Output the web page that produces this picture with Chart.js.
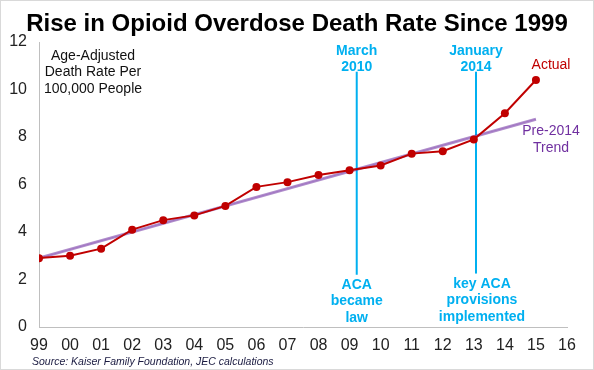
<!DOCTYPE html>
<html>
<head>
<meta charset="utf-8">
<script src="https://cdn.jsdelivr.net/npm/chart.js@4"></script>
<style>
  html, body { margin: 0; padding: 0; background: #fff; }
  #wrap { position: relative; width: 592px; height: 368px; border: 1px solid #d9d9d9; }
  canvas { display: block; }
</style>
</head>
<body>
<div id="wrap"><canvas id="canvasChart" width="592" height="368"></canvas></div>
<script>
"use strict";
// tick labels on the x axis (two-digit years)
const yearLabels = ['99', '00', '01', '02', '03', '04', '05', '06', '07', '08', '09', '10', '11', '12', '13', '14', '15', '16'];
// age-adjusted opioid overdose death rate per 100,000, 1999-2015
const actualValues = [2.9, 3.0, 3.3, 4.1, 4.5, 4.7, 5.1, 5.9, 6.1, 6.4, 6.6, 6.8, 7.3, 7.4, 7.9, 9.0, 10.4];
// pre-2014 trend, start and end
const trendX = [0, 16];
const trendValues = [2.9, 8.75];
// policy markers (x in year-index units)
const eventX = [10.23, 14.07];
const eventTop = [10.75, 10.75];
const eventBottom = [2.2, 2.25];
const eventTopText = [['March', '2010'], ['January', '2014']];
const eventBottomText = [['ACA', 'became', 'law'], ['key ACA', 'provisions', 'implemented']];
const yTicks = [0, 2, 4, 6, 8, 10, 12];

const FONT = '"Liberation Sans", Arial, sans-serif';
const RED = '#C00000';
const PURPLE = '#7030A0';
const CYAN = '#00B0F0';

const eventDatasets = eventX.map(function (x, i) {
    return {
        label: 'event' + i,
        data: [{ x: x, y: eventBottom[i] }, { x: x, y: eventTop[i] }],
        borderColor: CYAN,
        borderWidth: 2,
        pointRadius: 0,
        order: 3
    };
});

const textPlugin = {
    id: 'textPlugin',
    afterDraw: function (chart) {
        const ctx = chart.ctx;
        const xs = chart.scales.x;
        const ys = chart.scales.y;
        ctx.save();
        ctx.textBaseline = 'alphabetic';
        // title
        ctx.fillStyle = '#000';
        ctx.textAlign = 'center';
        ctx.font = 'bold 24px ' + FONT;
        ctx.fillText('Rise in Opioid Overdose Death Rate Since 1999', 296, 30);
        // y axis note
        ctx.font = '14px ' + FONT;
        ctx.fillStyle = '#111';
        ctx.fillText('Age-Adjusted', 92, 59);
        ctx.fillText('Death Rate Per', 92, 75);
        ctx.fillText('100,000 People', 92, 92);
        // event labels
        ctx.font = 'bold 14px ' + FONT;
        ctx.fillStyle = CYAN;
        eventX.forEach(function (x, i) {
            const px = xs.getPixelForValue(x);
            const top = ys.getPixelForValue(eventTop[i]);
            const bot = ys.getPixelForValue(eventBottom[i]);
            eventTopText[i].forEach(function (t, j) {
                ctx.fillText(t, px, top - 17 + j * 16.5);
            });
            const offs = i === 1 ? 6 : 0;
            eventBottomText[i].forEach(function (t, j) {
                ctx.fillText(t, px + offs, bot + 14 + j * 16.5);
            });
        });
        // series labels
        ctx.font = '14px ' + FONT;
        ctx.fillStyle = RED;
        ctx.fillText('Actual', 550, 68);
        ctx.fillStyle = PURPLE;
        ctx.fillText('Pre-2014', 550, 134);
        ctx.fillText('Trend', 550, 151);
        // source
        ctx.textAlign = 'left';
        ctx.font = 'italic 10.5px ' + FONT;
        ctx.fillStyle = '#1a1a40';
        ctx.fillText('Source: Kaiser Family Foundation, JEC calculations', 31, 364);
        ctx.restore();
    }
};

const ctx = document.getElementById('canvasChart');
const myChart = new Chart(ctx, {
    type: 'line',
    data: {
        datasets: [{
            label: 'Actual',
            data: actualValues.map(function (v, i) { return { x: i, y: v }; }),
            borderColor: RED,
            backgroundColor: RED,
            borderWidth: 2,
            pointRadius: 4,
            pointBorderWidth: 0,
            pointBackgroundColor: RED,
            order: 1
        }, {
            label: 'Trend',
            data: trendX.map(function (x, i) { return { x: x, y: trendValues[i] }; }),
            borderColor: 'rgba(112,48,160,0.55)',
            borderWidth: 3,
            pointRadius: 0,
            order: 2
        }, {
            label: 'Trend inner',
            data: trendX.map(function (x, i) { return { x: x, y: trendValues[i] }; }),
            borderColor: 'rgba(215,195,235,0.9)',
            borderWidth: 1,
            pointRadius: 0,
            order: 2
        }].concat(eventDatasets)
    },
    options: {
        responsive: false,
        animation: false,
        layout: { padding: { top: 41, right: 26, bottom: 0, left: 0 } },
        plugins: {
            legend: { display: false },
            tooltip: { enabled: false }
        },
        scales: {
            x: {
                type: 'linear',
                min: 0,
                max: yearLabels.length - 1,
                grid: { display: false, drawTicks: false, tickLength: 0 },
                border: { display: true, color: '#bfbfbf', width: 1 },
                afterFit: function (scale) { scale.height = 42; },
                afterBuildTicks: function (scale) {
                    scale.ticks = yearLabels.map(function (l, i) { return { value: i }; });
                },
                ticks: {
                    autoSkip: false,
                    maxRotation: 0,
                    padding: 9,
                    color: '#222',
                    font: { family: FONT, size: 16 },
                    callback: function (v) { return yearLabels[v]; }
                }
            },
            y: {
                min: 0,
                max: 12,
                grid: { display: false, drawTicks: false, tickLength: 0 },
                border: { display: true, color: '#bfbfbf', width: 1 },
                afterFit: function (scale) { scale.width = 38; },
                afterBuildTicks: function (scale) {
                    scale.ticks = yTicks.map(function (v) { return { value: v }; });
                },
                ticks: {
                    padding: 12,
                    color: '#222',
                    font: { family: FONT, size: 16 }
                }
            }
        }
    },
    plugins: [textPlugin]
});
</script>
</body>
</html>
